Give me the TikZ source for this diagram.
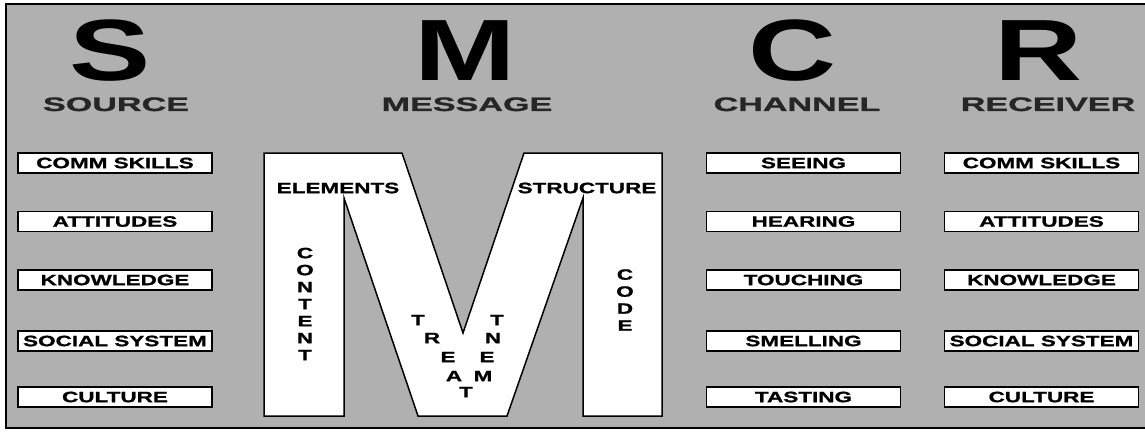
\documentclass[tikz,border=0pt]{standalone}
\usepackage{fontspec}
\setmainfont{Liberation Sans}
\newfontfamily\widefont[FakeStretch=1.5, BoldFeatures={FakeBold=1.2}]{Liberation Sans}
\newfontfamily\headfont[FakeStretch=1.75, BoldFeatures={FakeBold=1.2}]{Liberation Sans}
\newfontfamily\bigfont[FakeStretch=1.4]{Liberation Sans}
\definecolor{dotgray}{gray}{0.69}

\begin{document}
\begin{tikzpicture}[
  x=1pt, y=1pt,
  bigletter/.style={font=\bigfont\bfseries\fontsize{87}{87}\selectfont,
    anchor=base, inner sep=0pt},
  headlbl/.style={font=\headfont\bfseries\fontsize{19.5}{20}\selectfont,
    anchor=base, inner sep=0pt, text=black!85},
  itembox/.style={rectangle, draw, line width=1.5pt, fill=white,
    minimum width=194pt, minimum height=20pt, inner sep=0pt,
    font=\widefont\bfseries\fontsize{15}{15}\selectfont},
  mlbl/.style={inner sep=0pt, font=\widefont\bfseries\fontsize{15}{17}\selectfont},
  vlbl/.style={mlbl, align=center},
  mshape/.style={draw, line width=1.5pt, fill=white, line join=miter}
]

\useasboundingbox (0,0) rectangle (1145,432);

% Background panel
\fill[dotgray] (6,4) rectangle (1145,428);
\draw[line width=1.5pt] (1145,428) -- (6,428) -- (6,4) -- (1145,4);

% Big letters
\node[bigletter] (bigS) at (110,352) {S};
\node[bigletter] (bigM) at (465,352) {M};
\node[bigletter] (bigC) at (792,352) {C};
\node[bigletter] (bigR) at (1038,352) {R};

% Headings
\node[headlbl] (source)   at (116,321)  {SOURCE};
\node[headlbl] (message)  at (467,321)  {MESSAGE};
\node[headlbl] (channel)  at (797,321)  {CHANNEL};
\node[headlbl] (receiver) at (1048,321) {RECEIVER};

% Source column
\foreach \txt/\yy [count=\i] in {COMM SKILLS/269, ATTITUDES/210.5, KNOWLEDGE/152,
    SOCIAL SYSTEM/91, CULTURE/35}
  \node[itembox] (src\i) at (115,\yy) {\txt};

% Channel column
\foreach \txt/\yy [count=\i] in {SEEING/269, HEARING/210.5, TOUCHING/152,
    SMELLING/91, TASTING/35}
  \node[itembox] (chan\i) at (803.5,\yy) {\txt};

% Receiver column
\foreach \txt/\yy [count=\i] in {COMM SKILLS/269, ATTITUDES/210.5, KNOWLEDGE/152,
    SOCIAL SYSTEM/91, CULTURE/35}
  \node[itembox] (rec\i) at (1041.5,\yy) {\txt};

% Message: the large M
\draw[mshape] (264,279) -- (402,279) -- (463,99) -- (524,279) -- (662,279)
  -- (662,16) -- (583,16) -- (583,234) -- (507,16) -- (418,16)
  -- (344,234) -- (344,16) -- (264,16) -- cycle;

\node[mlbl] (elements)  at (338,244) {ELEMENTS};
\node[mlbl] (structure) at (587,244) {STRUCTURE};
\node[vlbl] (content)   at (305,128) {C\\O\\N\\T\\E\\N\\T};
\node[vlbl] (code)      at (625,132) {C\\O\\D\\E};

% Treatment, along the V
\foreach \ch/\x/\y [count=\i] in {T/418/320, R/432/338, E/448/357, A/454/376,
    T/466/392, M/483/376, E/487/357, N/493/338, T/497/320}
  \node[mlbl] (treat\i) at (\x,432-\y) {\ch};

\end{tikzpicture}
\end{document}
